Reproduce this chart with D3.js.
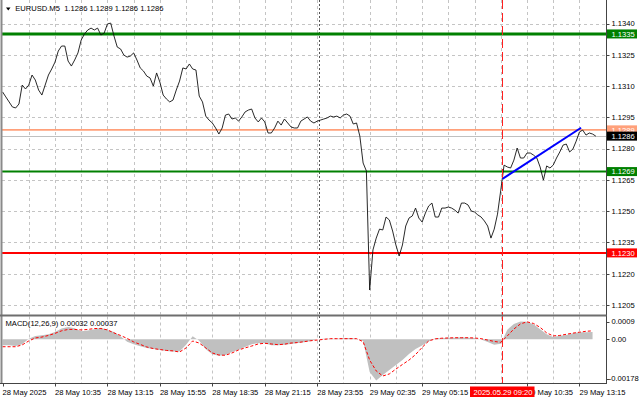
<!DOCTYPE html>
<html><head><meta charset="utf-8">
<script src="https://cdn.jsdelivr.net/npm/d3@7"></script>
<style>
html,body{margin:0;padding:0;background:#fff;overflow:hidden}
svg{display:block}
text{font-family:"Liberation Sans",Arial,sans-serif;font-size:7.6px;white-space:pre}
</style>
</head><body><svg id="c" width="640" height="401"></svg>
<script>
// ---------- data ----------
const symbol = "EURUSD.M5";
const ohlc = ["1.1286", "1.1289", "1.1286", "1.1286"];
const priceStart = "2025-05-28 07:55";
const priceStepMin = 10;
const closes = [
1.13072,1.13048,1.13024,1.13000,1.12995,1.13014,1.13105,1.13086,1.13105,1.13153,
1.13129,1.13081,1.13057,1.13105,1.13153,1.13182,1.13215,1.13268,1.13292,1.13292,
1.13220,1.13196,1.13225,1.13259,1.13321,1.13350,1.13369,1.13378,1.13369,1.13378,
1.13345,1.13354,1.13398,1.13402,1.13340,1.13287,1.13278,1.13249,1.13239,1.13244,
1.13259,1.13225,1.13187,1.13172,1.13148,1.13139,1.13100,1.13163,1.13119,1.13057,
1.13038,1.13024,1.13033,1.13081,1.13124,1.13187,1.13182,1.13206,1.13182,1.13177,
1.13052,1.13024,1.12956,1.12937,1.12923,1.12899,1.12870,1.12899,1.12961,1.12966,
1.12942,1.12947,1.12932,1.12952,1.12976,1.12985,1.12990,1.12947,1.12928,1.12947,
1.12928,1.12875,1.12875,1.12899,1.12932,1.12913,1.12942,1.12923,1.12904,1.12899,
1.12899,1.12932,1.12942,1.12952,1.12932,1.12923,1.12932,1.12937,1.12942,1.12947,
1.12956,1.12952,1.12956,1.12947,1.12961,1.12966,1.12956,1.12918,1.12923,1.12860,
1.12731,1.12693,1.12122,1.12314,1.12371,1.12414,1.12410,1.12472,1.12458,1.12405,
1.12338,1.12285,1.12338,1.12429,1.12467,1.12477,1.12515,1.12467,1.12448,1.12491,
1.12525,1.12539,1.12472,1.12472,1.12515,1.12515,1.12520,1.12515,1.12505,1.12491,
1.12539,1.12539,1.12530,1.12501,1.12496,1.12482,1.12472,1.12453,1.12429,1.12371,
1.12414,1.12486,1.12601,1.12721,1.12712,1.12707,1.12745,1.12803,1.12755,1.12755,
1.12779,1.12779,1.12769,1.12755,1.12712,1.12649,1.12717,1.12707,1.12721,1.12755,
1.12784,1.12817,1.12822,1.12784,1.12798,1.12836,1.12880,1.12889,1.12865,1.12875,
1.12870,1.12860
];
const macdStepMin = 20;
const macdMain = [
-0.00026,-0.00026,-0.00029,-0.00021,0.00003,0.00015,0.00018,0.00022,0.00032,0.00047,
0.00054,0.00048,0.00035,0.00038,0.00044,0.00050,0.00041,0.00032,0.00013,-0.00010,
-0.00021,-0.00030,-0.00037,-0.00042,-0.00046,-0.00050,-0.00053,-0.00053,-0.00023,0.00013,
-0.00006,-0.00043,-0.00065,-0.00071,-0.00068,-0.00055,-0.00045,-0.00033,-0.00021,-0.00017,
-0.00017,-0.00026,-0.00026,-0.00023,-0.00020,-0.00016,-0.00013,-0.00007,0.00000,0.00003,
0.00003,0.00003,0.00005,0.00006,0.00003,-0.00007,-0.00142,-0.00178,-0.00155,-0.00133,
-0.00111,-0.00090,-0.00063,-0.00042,-0.00027,-0.00009,0.00005,0.00005,0.00007,0.00007,
0.00009,0.00007,0.00006,-0.00001,-0.00011,-0.00023,-0.00019,0.00042,0.00067,0.00077,
0.00076,0.00066,0.00044,0.00022,0.00010,0.00016,0.00019,0.00027,0.00031,0.00031,
0.00032
];
const macdSignal = [
-0.00032,-0.00032,-0.00032,-0.00024,-0.00007,0.00006,0.00010,0.00017,0.00026,0.00037,
0.00043,0.00043,0.00041,0.00043,0.00047,0.00047,0.00041,0.00028,0.00017,0.00004,
-0.00011,-0.00022,-0.00033,-0.00040,-0.00044,-0.00048,-0.00050,-0.00055,-0.00037,-0.00007,
-0.00016,-0.00037,-0.00059,-0.00068,-0.00069,-0.00059,-0.00046,-0.00037,-0.00029,-0.00020,
-0.00017,-0.00020,-0.00023,-0.00021,-0.00016,-0.00014,-0.00010,-0.00006,-0.00003,0.00000,
0.00003,0.00003,0.00003,0.00003,0.00003,-0.00010,-0.00090,-0.00137,-0.00159,-0.00150,
-0.00129,-0.00109,-0.00090,-0.00066,-0.00035,-0.00007,0.00002,0.00005,0.00006,0.00007,
0.00007,0.00007,0.00006,0.00003,-0.00003,-0.00009,-0.00013,0.00015,0.00045,0.00067,
0.00076,0.00069,0.00052,0.00028,0.00015,0.00017,0.00022,0.00027,0.00031,0.00035,
0.00037
];
const macdLabel = "MACD(12,26,9) 0.00032 0.00037";
const priceTicks = [1.1340, 1.1325, 1.1310, 1.1295, 1.1280, 1.1265, 1.1250, 1.1235, 1.1220, 1.1205];
const macdTicks = [0.0009, 0, -0.00178];
const macdTickLabels = ["0.0009", "0.00", "-0.00178"];
const timeTicks = ["2025-05-28 07:55","2025-05-28 10:35","2025-05-28 13:15","2025-05-28 15:55","2025-05-28 18:35","2025-05-28 21:15","2025-05-28 23:55","2025-05-29 02:35","2025-05-29 05:15","2025-05-29 10:35","2025-05-29 13:15"];
const timeTickLabels = ["28 May 2025","28 May 10:35","28 May 13:15","28 May 15:55","28 May 18:35","28 May 21:15","28 May 23:55","29 May 02:35","29 May 05:15","29 May 10:35","29 May 13:15"];
const levelPrices = [1.1335, 1.1289, 1.1269, 1.1230];
const bidPrice = 1.1286;
const trendTimes = ["2025-05-29 09:20", "2025-05-29 13:20"];
const trendPrices = [1.12655, 1.12900];
const markerTime = "2025-05-29 09:20";
const markerLabel = "2025.05.29 09:20";
const separatorTime = "2025-05-29 00:00";

// ---------- styles / layout ----------
const levelStyles = [
  {color:"#008000", width:3, box:"#008000"},
  {color:"#ffa07a", width:1.6, box:"#ffa07a"},
  {color:"#008000", width:2, box:"#008000"},
  {color:"#ff0000", width:2, box:"#ff0000"}
];
const plotL = 2, plotR = 606.5, mainBot = 314.5, macdTop = 316.5, macdBot = 383;
const svg = d3.select("#c");
const parse = d3.utcParse("%Y-%m-%d %H:%M");
const t0 = parse(priceStart);
const x = d3.scaleUtc().domain([t0, parse("2025-05-29 14:36")]).range([2.55, 606]);
const y = d3.scaleLinear().domain([1.12007, 1.13508]).range([314, 1]);
const my = d3.scaleLinear().domain([-0.00185, 0.00097]).range([382, 317]);
const snap = v => Math.round(v) + 0.5;

svg.append("rect").attr("width",640).attr("height",401).attr("fill","#fff");

// grid
const gridG = svg.append("g").attr("stroke","#c4c4c4").attr("stroke-width",1).attr("stroke-dasharray","3,3");
const gridTimes = d3.range(16, 360, 16).map(i => new Date(+t0 + i*5*60000));
gridTimes.forEach(t => {
  const gx = snap(x(t));
  gridG.append("line").attr("x1",gx).attr("x2",gx).attr("y1",0).attr("y2",mainBot);
  gridG.append("line").attr("x1",gx).attr("x2",gx).attr("y1",macdTop).attr("y2",macdBot);
});
priceTicks.forEach(p => {
  const gy = snap(y(p));
  gridG.append("line").attr("x1",plotL).attr("x2",plotR).attr("y1",gy).attr("y2",gy);
});

// day separator
const sx = snap(x(parse(separatorTime)));
svg.append("line").attr("x1",sx).attr("x2",sx).attr("y1",0).attr("y2",macdBot)
  .attr("stroke","#555").attr("stroke-dasharray","2,2");

// level lines
levelPrices.forEach((p,i) => {
  svg.append("line").attr("x1",plotL).attr("x2",plotR).attr("y1",y(p)).attr("y2",y(p))
    .attr("stroke",levelStyles[i].color).attr("stroke-width",levelStyles[i].width);
});
svg.append("line").attr("x1",plotL).attr("x2",plotR).attr("y1",snap(y(bidPrice))).attr("y2",snap(y(bidPrice)))
  .attr("stroke","#c0c0c0").attr("stroke-width",1);

// price line
const closeData = closes.map((v,i) => ({t:new Date(+t0 + i*priceStepMin*60000), v}));
svg.append("path").datum(closeData)
  .attr("d", d3.line().x(d => x(d.t)).y(d => y(d.v)))
  .attr("fill","none").attr("stroke","#111").attr("stroke-width",0.9);

// trend line
svg.append("line")
  .attr("x1",x(parse(trendTimes[0]))).attr("y1",y(trendPrices[0]))
  .attr("x2",x(parse(trendTimes[1]))).attr("y2",y(trendPrices[1]))
  .attr("stroke","#0000ff").attr("stroke-width",2);

// MACD
const mainData = macdMain.map((v,i) => ({t:new Date(+t0 + i*macdStepMin*60000), v}));
const sigData = macdSignal.map((v,i) => ({t:new Date(+t0 + i*macdStepMin*60000), v}));
svg.append("path").datum(mainData)
  .attr("d", d3.area().x(d => x(d.t)).y0(my(0)).y1(d => my(d.v)))
  .attr("fill","#c0c0c0");
svg.append("path").datum(sigData)
  .attr("d", d3.line().x(d => x(d.t)).y(d => my(d.v)))
  .attr("fill","none").attr("stroke","#ff0000").attr("stroke-width",1).attr("stroke-dasharray","3,2");

// marker vertical
const mx = snap(x(parse(markerTime)));
svg.append("line").attr("x1",mx).attr("x2",mx).attr("y1",0).attr("y2",macdBot)
  .attr("stroke","#ff2020").attr("stroke-width",1).attr("stroke-dasharray","9,4");

// frame
svg.append("line").attr("x1",1.5).attr("x2",1.5).attr("y1",0).attr("y2",macdBot).attr("stroke","#8a8a8a").attr("stroke-width",2);
svg.append("line").attr("x1",plotR).attr("x2",plotR).attr("y1",0).attr("y2",macdBot+0.5).attr("stroke","#444");
svg.append("line").attr("x1",0).attr("x2",plotR).attr("y1",315.5).attr("y2",315.5).attr("stroke","#6e6e6e").attr("stroke-width",2);
svg.append("line").attr("x1",0).attr("x2",plotR+0.5).attr("y1",macdBot+0.5).attr("y2",macdBot+0.5).attr("stroke","#444");

// price axis labels
priceTicks.forEach(p => {
  const ty = y(p);
  svg.append("line").attr("x1",607).attr("x2",609.5).attr("y1",snap(ty)).attr("y2",snap(ty)).attr("stroke","#444");
  svg.append("text").attr("x",611.5).attr("y",ty+2.8).attr("fill","#000").text(d3.format(".4f")(p));
});
// level boxes
const boxH = 9;
const drawBox = (p, fill) => {
  const by = y(p);
  svg.append("rect").attr("x",607).attr("y",by-boxH/2).attr("width",30).attr("height",boxH).attr("fill",fill);
  svg.append("text").attr("x",611.5).attr("y",by+2.8).attr("fill","#fff").text(d3.format(".4f")(p));
};
drawBox(levelPrices[0], levelStyles[0].box);
drawBox(levelPrices[1], levelStyles[1].box);
drawBox(bidPrice, "#000");
drawBox(levelPrices[2], levelStyles[2].box);
drawBox(levelPrices[3], levelStyles[3].box);

// MACD axis labels
macdTicks.forEach((v,i) => {
  const ty = Math.max(321.5, Math.min(378.5, my(v)));
  svg.append("line").attr("x1",607).attr("x2",609.5).attr("y1",snap(ty)).attr("y2",snap(ty)).attr("stroke","#444");
  svg.append("text").attr("x", v < 0 ? 608.7 : 611.5).attr("y",ty+2.8).attr("fill","#000").text(macdTickLabels[i]);
});

// time axis
timeTicks.forEach((s,i) => {
  const tx = x(parse(s));
  svg.append("line").attr("x1",snap(tx)).attr("x2",snap(tx)).attr("y1",macdBot).attr("y2",macdBot+3.5).attr("stroke","#444");
  svg.append("text").attr("x",tx).attr("y",395).attr("fill","#000").text(timeTickLabels[i]);
});
// marker label
svg.append("rect").attr("x",mx-32.5).attr("y",386.5).attr("width",64.5).attr("height",10.5).attr("fill","#ff0000");
svg.append("text").attr("x",mx+0.5).attr("y",394.8).attr("text-anchor","middle").attr("fill","#fff").text(markerLabel);

// titles
svg.append("path").attr("d","M6,7.5 L10.5,7.5 L8.25,10.5 Z").attr("fill","#000");
svg.append("text").attr("x",15.2).attr("y",11).attr("fill","#000").text(symbol + "  " + ohlc.join(" "));
svg.append("text").attr("x",5.5).attr("y",325.5).attr("fill","#000").text(macdLabel);
</script>
</body></html>
